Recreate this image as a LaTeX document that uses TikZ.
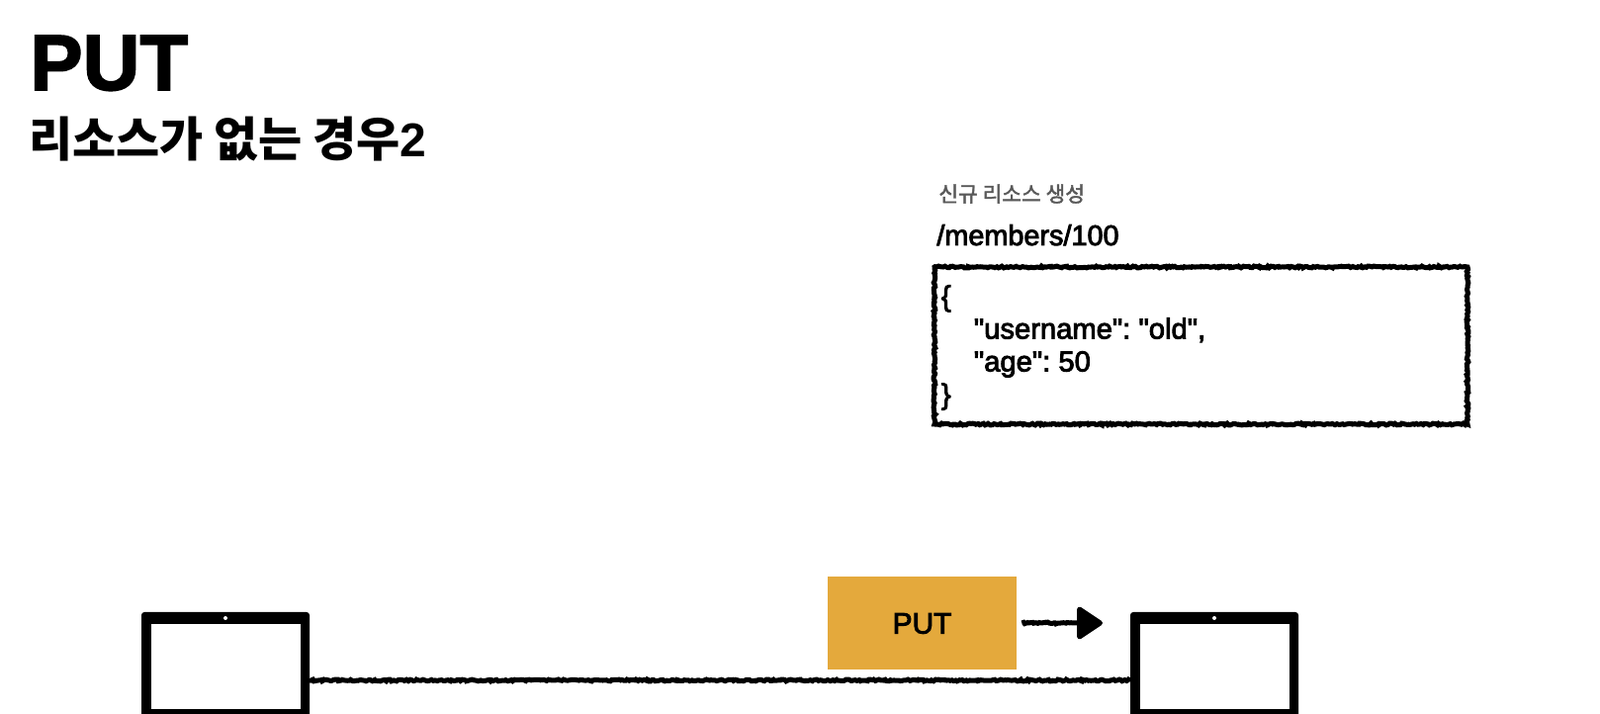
\documentclass[tikz,border=0pt]{standalone}
\usepackage{fontspec}
\setmainfont{Liberation Sans}
\newfontfamily\kofont{Noto Sans CJK KR}
\newfontfamily\kobold[FakeBold=2]{Noto Sans CJK KR}
\newfontfamily\medfont[FakeBold=3]{Liberation Sans}
\newfontfamily\titlefont[FakeBold=2]{Liberation Sans Bold}
\frenchspacing
\usetikzlibrary{
    arrows.meta,
    decorations.pathmorphing
}
\definecolor{putorange}{HTML}{E4A93C}
\tikzset{
    rough/.style={line width=0.1cm,decorate,
        decoration={random steps,segment length=1pt,amplitude=0.5pt}},
    laptop/.style={fill=black,rounded corners=0.06cm,minimum width=3.4cm,minimum height=2.22cm,inner sep=0pt,outer sep=0pt},
    jsontext/.style={font=\medfont\fontsize{16.6}{18.8}\selectfont}
}

\begin{document}
\begin{tikzpicture}[scale=1]
\useasboundingbox (0,0) rectangle (32.36,14.44);
\fill[white] (0,0) rectangle (32.36,14.44);

% Title
\node[anchor=base west,inner sep=0pt,font=\titlefont\fontsize{45.5}{46}\selectfont] (title) at (0.6,12.62) {PUT};
\node[anchor=base west,inner sep=0pt,font=\kofont\bfseries\fontsize{27.3}{27}\selectfont] (subtitle) at (0.58,11.26) {리소스가 없는 경우{\rmfamily 2}};

% New resource
\node[anchor=base west,inner sep=0pt,text=black!65,font=\kobold\fontsize{12.2}{12.2}\selectfont] (newres) at (18.98,10.36) {신규 리소스 생성};
\node[anchor=base west,inner sep=0pt,font=\medfont\fontsize{16.4}{16}\selectfont] (path) at (18.94,9.48) {/members/100};

% Resource box
\node[draw,rough,minimum width=10.78cm,minimum height=3.18cm] (member) at (24.29,7.45) {};
\node[anchor=west,align=left,inner sep=0pt,jsontext] (json) at (19.03,7.41)
{\{\\\hspace*{0.66cm}"username": "old",\\\hspace*{0.66cm}"age": 50\\\}};

% Client
\node[laptop] (client) at (4.56,0.95) {};
\fill[white] (3.06,0.10) rectangle (6.08,1.82);
\fill[white] (4.56,1.94) circle (0.04);

% Server
\node[laptop] (server) at (24.56,0.95) {};
\fill[white] (23.06,0.10) rectangle (26.08,1.82);
\fill[white] (24.56,1.94) circle (0.04);

% Connection
\draw[rough,shorten <=0.08cm,shorten >=0.08cm] (client.351) -- (server.189);

% Request
\node[fill=putorange,minimum width=3.82cm,minimum height=1.88cm,inner sep=0pt,font=\medfont\fontsize{17}{17}\selectfont] (put) at (18.65,1.83) {PUT};
\coordinate (puttip) at (22.30,1.84);
\draw[rough,decoration={post=lineto,post length=0.6cm},-{Triangle[length=0.56cm,width=0.72cm,round]}] (put.east |- puttip) ++(0.1,0) -- (puttip);

\end{tikzpicture}
\end{document}
